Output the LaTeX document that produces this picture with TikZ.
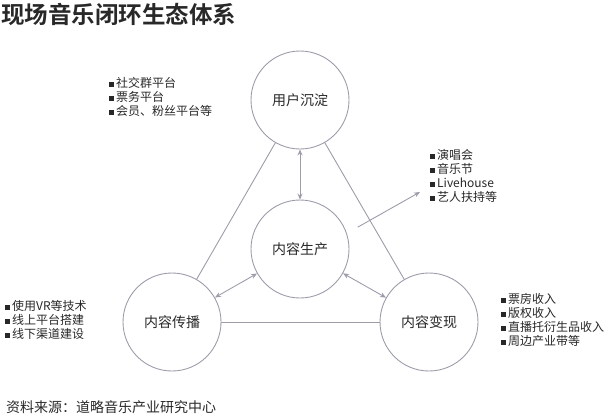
\documentclass[tikz,border=0pt]{standalone}
\usepackage{fontspec}
\setmainfont{Noto Sans CJK SC}[BoldFont={Noto Sans CJK SC Bold}]
\usetikzlibrary{arrows.meta}
\definecolor{linegray}{RGB}{160,155,170}
\definecolor{textgray}{RGB}{40,40,40}
\newcommand{\blt}{\rule[0.5pt]{4.5pt}{4.5pt}\hspace{2.5pt}}
\tikzset{
  stage/.style={circle, draw=linegray, line width=0.9pt, minimum size=98pt, inner sep=0pt, font=\fontsize{14pt}{16pt}\selectfont, text=textgray},
  bulletlist/.style={anchor=north west, align=left, inner sep=0pt, font=\fontsize{12pt}{14pt}\selectfont, text=textgray},
  link/.style={draw=linegray, line width=0.9pt},
}
\begin{document}
\begin{tikzpicture}[x=1pt, y=-1pt, line join=round, line cap=round, >={Stealth[length=6pt,width=5pt]}]
  \useasboundingbox (0,0) rectangle (609,416);
  % title and source
  \node[anchor=west, inner sep=0pt, font=\fontsize{23.5pt}{26pt}\selectfont\bfseries, text=textgray] (title) at (1,14) {现场音乐闭环生态体系};
  \node[anchor=west, inner sep=0pt, font=\fontsize{14pt}{16pt}\selectfont, text=textgray] (source) at (6,407) {资料来源：道略音乐产业研究中心};
  % stages
  \node[stage] (user) at (300,100) {用户沉淀};
  \node[stage] (prod) at (300,249) {内容生产};
  \node[stage] (spread) at (172,322) {内容传播};
  \node[stage] (cash) at (429,322) {内容变现};
  % outer triangle
  \draw[link] (user) -- (spread);
  \draw[link] (user) -- (cash);
  \draw[link] (spread) -- (cash);
  % double arrows
  \foreach \n in {user,spread,cash} \draw[link,<->] (prod) -- (\n);
  % lists
  \node[bulletlist] (userlist) at (109,77) {\blt 社交群平台\\ \blt 票务平台\\ \blt 会员、粉丝平台等};
  \node[bulletlist] (perflist) at (430,149) {\blt 演唱会\\ \blt 音乐节\\ \blt Livehouse\\ \blt 艺人扶持等};
  \node[bulletlist] (spreadlist) at (5,300) {\blt 使用VR等技术\\ \blt 线上平台搭建\\ \blt 线下渠道建设};
  \node[bulletlist] (cashlist) at (501,293) {\blt 票房收入\\ \blt 版权收入\\ \blt 直播托衍生品收入\\ \blt 周边产业带等};
  \coordinate (arrowstart) at (358,227);
  \coordinate (arrowend) at (420,192);
  \draw[link,->] (arrowstart) -- (arrowend);
\end{tikzpicture}
\end{document}
